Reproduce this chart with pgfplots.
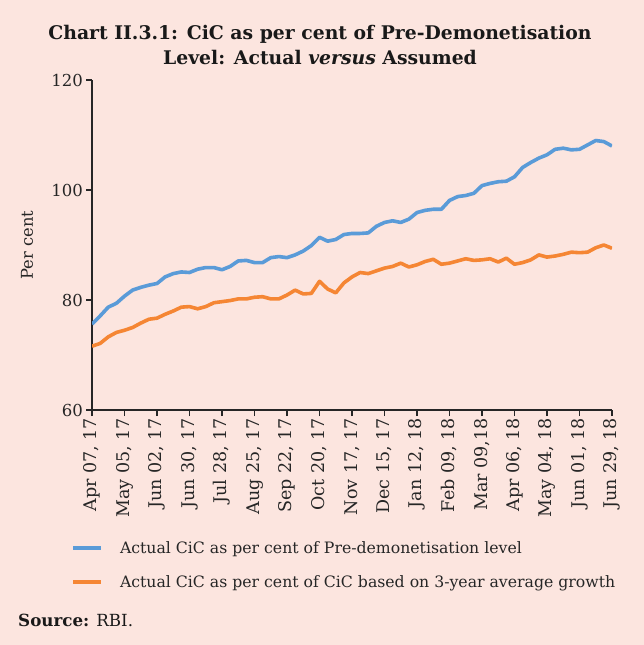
\documentclass[border=0pt]{standalone}
\usepackage{pgfplots}
\pgfplotsset{compat=1.18}
\usepackage{pgfplotstable}
\usepackage{fontspec}
\setmainfont{DejaVu Serif}
\definecolor{bg}{HTML}{FCE5DF}
\definecolor{cblue}{HTML}{5A9BD8}
\definecolor{corange}{HTML}{F58634}
\pgfplotstableread{
i blue orange
0 75.6 71.6
1 77.1 72.1
2 78.7 73.3
3 79.4 74.1
4 80.7 74.5
5 81.8 75.0
6 82.3 75.8
7 82.7 76.5
8 83.0 76.7
9 84.2 77.4
10 84.8 78.0
11 85.1 78.7
12 85.0 78.8
13 85.6 78.4
14 85.9 78.8
15 85.9 79.5
16 85.5 79.7
17 86.1 79.9
18 87.1 80.2
19 87.2 80.2
20 86.8 80.5
21 86.8 80.6
22 87.7 80.2
23 87.9 80.2
24 87.7 80.9
25 88.2 81.8
26 88.9 81.1
27 89.9 81.2
28 91.4 83.4
29 90.7 82.0
30 91.0 81.3
31 91.9 83.1
32 92.1 84.2
33 92.1 85.0
34 92.2 84.8
35 93.4 85.3
36 94.1 85.8
37 94.4 86.1
38 94.1 86.7
39 94.7 86.0
40 95.9 86.4
41 96.3 87.0
42 96.5 87.4
43 96.5 86.5
44 98.1 86.7
45 98.8 87.1
46 99.0 87.5
47 99.4 87.2
48 100.8 87.3
49 101.2 87.5
50 101.5 86.9
51 101.6 87.6
52 102.4 86.5
53 104.1 86.8
54 105.0 87.3
55 105.8 88.2
56 106.4 87.8
57 107.4 88.0
58 107.6 88.3
59 107.3 88.7
60 107.4 88.6
61 108.2 88.7
62 109.0 89.5
63 108.8 90.0
64 108.0 89.4
}\datatable
\begin{document}
\begin{tikzpicture}[x=1pt,y=1pt]
\fill[bg] (0,0) rectangle (644,645);
\begin{axis}[
  at={(92pt,235pt)}, anchor=south west,
  scale only axis, width=520pt, height=330pt,
  xmin=0, xmax=64, ymin=60, ymax=120,
  axis x line*=bottom, axis y line*=left,
  axis line style={line width=1.1pt, black!85},
  tick style={line width=1.1pt, black!85},
  tick align=outside, major tick length=6pt,
  xtick={0,4,...,64},
  xticklabels={{Apr 07, 17},{May 05, 17},{Jun 02, 17},{Jun 30, 17},{Jul 28, 17},{Aug 25, 17},{Sep 22, 17},{Oct 20, 17},{Nov 17, 17},{Dec 15, 17},{Jan 12, 18},{Feb 09, 18},{Mar 09,18},{Apr 06, 18},{May 04, 18},{Jun 01, 18},{Jun 29, 18}},
  ytick={60,80,100,120},
  /pgf/number format/assume math mode=true,
  tick label style={black!85},
  xticklabel style={rotate=90, anchor=east, inner sep=2pt, font=\fontsize{17.5}{20}\selectfont},
  yticklabel style={inner sep=3pt, font=\fontsize{16.5}{19}\selectfont},
  ylabel={Per cent},
  every axis y label/.style={at={(axis description cs:-0.125,0.5)}, rotate=90, anchor=center, font=\fontsize{16.3}{19}\selectfont, black!85},
  legend style={at={(axis description cs:-0.04,-0.398)}, anchor=north west, draw=none, fill=none,
    font=\fontsize{15.7}{18}\selectfont, text=black!85, row sep=20.5pt, inner sep=0pt,
    nodes={inner sep=0pt, outer sep=0pt}},
  legend cell align=left,
  legend image code/.code={\draw[#1] (0pt,0pt) -- (28pt,0pt); \path (45pt,0pt);},
]
\addplot[cblue, line width=3.6pt, line join=round] table[x=i, y=blue] {\datatable};
\addlegendentry{Actual CiC as per cent of Pre-demonetisation level}
\addplot[corange, line width=3.6pt, line join=round] table[x=i, y=orange] {\datatable};
\addlegendentry{Actual CiC as per cent of CiC based on 3-year average growth}
\end{axis}
\node[font=\fontsize{18.8}{25}\selectfont\bfseries, align=center, text=black!90] at (320,600)
  {Chart II.3.1: CiC as per cent of Pre-Demonetisation\\Level: Actual \textit{versus} Assumed};
\node[anchor=base west, font=\fontsize{16.7}{19}\selectfont, text=black!90, inner sep=0pt] at (18,18)
  {\textbf{Source:} RBI.};
\end{tikzpicture}
\end{document}
